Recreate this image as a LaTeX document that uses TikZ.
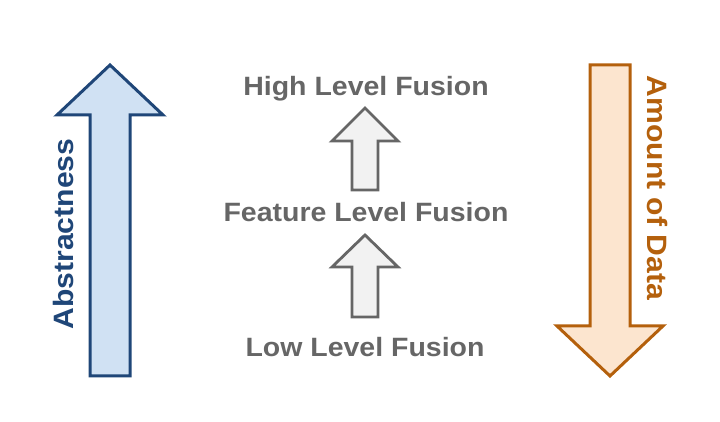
\documentclass[tikz,border=0pt]{standalone}
\usepackage{fontspec}
\setmainfont{Liberation Sans}
\newfontfamily\widefont[FakeStretch=1.075]{Liberation Sans}
\definecolor{bluestroke}{HTML}{1F4678}
\definecolor{bluefill}{HTML}{D0E1F3}
\definecolor{orgstroke}{HTML}{B4600C}
\definecolor{orgfill}{HTML}{FCE5CF}
\definecolor{greyline}{HTML}{666666}
\definecolor{greyfill}{HTML}{F2F2F2}
\tikzset{
  bigblue/.style={draw=bluestroke,fill=bluefill,line width=3pt,line join=miter},
  bigorg/.style={draw=orgstroke,fill=orgfill,line width=3pt,line join=miter},
  smallarr/.style={draw=greyline,fill=greyfill,line width=2.8pt,line join=miter},
  level/.style={text=greyline,font=\widefont\fontsize{26.5}{30}\selectfont\bfseries,anchor=base,inner sep=0pt},
  side/.style={font=\widefont\fontsize{28}{32}\selectfont\bfseries,anchor=base,inner sep=0pt}
}
\begin{document}
\begin{tikzpicture}[x=1pt,y=1pt]
\useasboundingbox (0,0) rectangle (720,422);
% left arrow
\draw[bigblue] (110,357) -- (163,307) -- (130,307) -- (130,46) -- (90,46) -- (90,307) -- (57,307) -- cycle;
\node[side,text=bluestroke,rotate=90] (abs) at (73,188) {Abstractness};
% right arrow
\draw[bigorg] (590,357) -- (630,357) -- (630,96) -- (663,96) -- (610,46) -- (557,96) -- (590,96) -- cycle;
\node[side,text=orgstroke,rotate=-90] (amt) at (647,234) {Amount of Data};
% middle
\node[level] (high) at (366,326) {High Level Fusion};
\node[level] (feat) at (366,200) {Feature Level Fusion};
\node[level] (low) at (365,65) {Low Level Fusion};
\draw[smallarr] (365,314) -- (398,281) -- (378,281) -- (378,232) -- (352,232) -- (352,281) -- (332,281) -- cycle;
\draw[smallarr] (365,187) -- (398,155) -- (378,155) -- (378,105) -- (352,105) -- (352,155) -- (332,155) -- cycle;
\end{tikzpicture}
\end{document}
